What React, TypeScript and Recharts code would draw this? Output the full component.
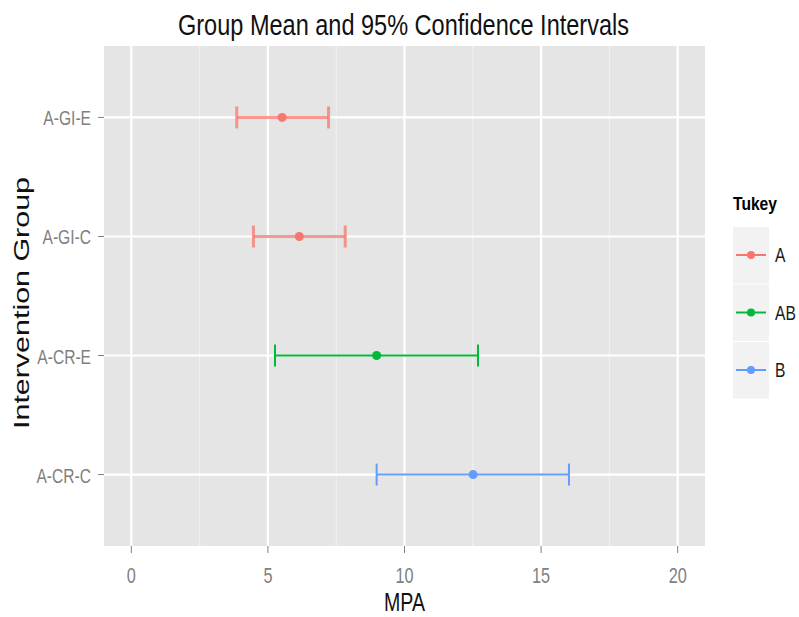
import React from 'react';
import { ScatterChart, Scatter, XAxis, YAxis, ZAxis, CartesianGrid, ErrorBar, Legend } from 'recharts';

const groups = ['A-GI-E', 'A-GI-C', 'A-CR-E', 'A-CR-C'];
const means = [5.52, 6.15, 8.98, 12.51];
const lowers = [3.86, 4.47, 5.26, 8.98];
const uppers = [7.22, 7.83, 12.69, 16.02];
const tukey = ['A', 'A', 'AB', 'B'];
const tukeyLevels = ['A', 'AB', 'B'];
const tukeyColors = ['#F8766D', '#00BA38', '#619CFF'];
const xTicks = [0, 5, 10, 15, 20];
const xMinor = [2.5, 7.5, 12.5, 17.5];
const yTicks = [1, 2, 3, 4];

const rows = groups.map((g, i) => ({
  group: g,
  pos: groups.length - i,
  mpa: means[i],
  err: [means[i] - lowers[i], uppers[i] - means[i]],
  tukey: tukey[i],
}));

const FONT = '"Liberation Sans", Arial, sans-serif';

const YTick = (props: any) => {
  const { x, y, payload } = props;
  const label = groups[groups.length - payload.value];
  return (
    <text
      transform={`translate(${x},${y + 8}) scale(0.78,1)`}
      textAnchor="end"
      fontSize={20}
      fontFamily={FONT}
      fill="#7F7F7F"
    >
      {label}
    </text>
  );
};

const XTick = (props: any) => {
  const { x, y, payload } = props;
  return (
    <text
      transform={`translate(${x},${y + 28}) scale(0.74,1)`}
      textAnchor="middle"
      fontSize={22}
      fontFamily={FONT}
      fill="#7F7F7F"
    >
      {payload.value}
    </text>
  );
};

const LegendBox = () => (
  <svg width={81} height={215} style={{ display: 'block' }}>
    <text x={15} y={20} fontSize={18} fontWeight="bold" fontFamily={FONT} fill="#000" textLength={44} lengthAdjust="spacingAndGlyphs">
      Tukey
    </text>
    {tukeyLevels.map((lv, k) => {
      const top = 37 + k * 57.5;
      const cy = top + 28;
      return (
        <g key={lv}>
          <rect x={15} y={top} width={36} height={56.5} fill="#F2F2F2" />
          <line x1={18} x2={48} y1={cy} y2={cy} stroke={tukeyColors[k]} strokeWidth={2} />
          <circle cx={33} cy={cy} r={4} fill={tukeyColors[k]} />
          <text transform={`translate(57,${cy + 7}) scale(0.78,1)`} fontSize={20} fontFamily={FONT} fill="#1A1A1A">
            {lv}
          </text>
        </g>
      );
    })}
  </svg>
);

export default function App() {
  return (
    <div style={{ position: 'absolute', left: 0, top: 0, width: 799, height: 617, background: '#fff' }}>
      <ScatterChart width={799} height={617} margin={{ top: 46, right: 94, bottom: 0, left: 0 }}>
        <CartesianGrid fill="#E5E5E5" stroke="#F2F2F2" strokeWidth={1} horizontal={false} verticalValues={xMinor} />
        <CartesianGrid fill="none" stroke="#FFFFFF" strokeWidth={2.2} horizontalValues={yTicks} verticalValues={xTicks} />
        <XAxis
          type="number"
          dataKey="mpa"
          domain={[-1, 21]}
          ticks={xTicks}
          allowDataOverflow
          height={71}
          axisLine={false}
          tickLine={{ stroke: '#7F7F7F' }}
          tickSize={7}
          tickMargin={2}
          tick={<XTick />}
        />
        <YAxis
          type="number"
          dataKey="pos"
          domain={[0.4, 4.6]}
          ticks={yTicks}
          allowDataOverflow
          width={104}
          axisLine={false}
          tickLine={{ stroke: '#7F7F7F' }}
          tickSize={6}
          tickMargin={7}
          tick={<YTick />}
        />
        <ZAxis range={[60, 60]} />
        {tukeyLevels.map((lv, k) => (
          <Scatter
            key={lv}
            name={lv}
            data={rows.filter((r) => r.tukey === lv)}
            fill={tukeyColors[k]}
            isAnimationActive={false}
          >
            <ErrorBar
              dataKey="err"
              direction="x"
              width={11}
              stroke={tukeyColors[k]}
              strokeWidth={lv === 'A' ? 3 : 2}
              strokeOpacity={lv === 'A' ? 0.75 : 1}
              isAnimationActive={false}
            />
          </Scatter>
        ))}
        <Legend
          layout="vertical"
          align="center"
          verticalAlign="middle"
          wrapperStyle={{ position: 'absolute', left: 718, top: 190, width: 81, height: 215 }}
          content={() => <LegendBox />}
        />
        <text x={403.5} y={35} textAnchor="middle" fontSize={30} fontFamily={FONT} fill="#111" textLength={451} lengthAdjust="spacingAndGlyphs">
          Group Mean and 95% Confidence Intervals
        </text>
        <text x={404.5} y={611} textAnchor="middle" fontSize={26} fontFamily={FONT} fill="#111" textLength={41} lengthAdjust="spacingAndGlyphs">
          MPA
        </text>
        <text
          transform="translate(29,303) rotate(-90)"
          textAnchor="middle"
          fontSize={22}
          fontFamily={FONT}
          fill="#111"
          textLength={252}
          lengthAdjust="spacingAndGlyphs"
        >
          Intervention Group
        </text>
      </ScatterChart>
    </div>
  );
}
